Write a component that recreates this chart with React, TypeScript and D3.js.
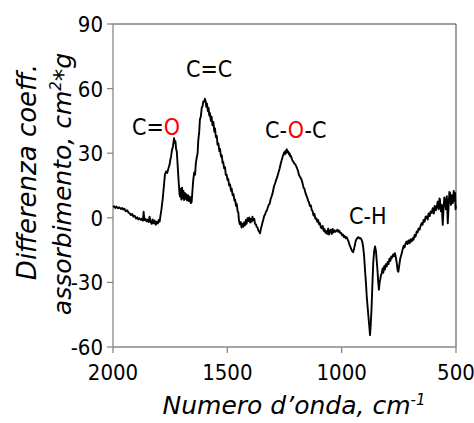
import React from "react";
import * as d3 from "d3";

// Wavenumber (cm-1) and absorption-coefficient difference
const wavenumbers = [
  2000, 1995, 1990, 1985, 1978, 1972, 1966, 1960, 1955, 1950, 1944, 1938, 1933, 1927, 1921, 1916, 1911, 1905, 1899, 1894,
  1889, 1884, 1878, 1873, 1869, 1866, 1863, 1858, 1853, 1848, 1844, 1840, 1836, 1831, 1827, 1822, 1818, 1813, 1809, 1804,
  1800, 1796, 1793, 1788, 1783, 1778, 1773, 1768, 1763, 1758, 1753, 1749, 1746, 1742, 1738, 1735, 1733, 1730, 1727, 1724,
  1721, 1717, 1713, 1709, 1707, 1704, 1701, 1698, 1695, 1692, 1689, 1686, 1683, 1680, 1676, 1672, 1668, 1664, 1660, 1656,
  1653, 1649, 1645, 1641, 1638, 1634, 1630, 1627, 1623, 1620, 1616, 1612, 1608, 1605, 1601, 1598, 1595, 1592, 1589, 1585,
  1582, 1579, 1576, 1572, 1569, 1565, 1561, 1557, 1554, 1550, 1546, 1543, 1539, 1535, 1532, 1528, 1524, 1521, 1518, 1514,
  1510, 1507, 1503, 1499, 1496, 1492, 1488, 1484, 1481, 1477, 1473, 1469, 1466, 1462, 1459, 1455, 1452, 1449, 1445, 1441,
  1438, 1434, 1430, 1427, 1423, 1419, 1416, 1412, 1408, 1404, 1400, 1397, 1393, 1390, 1386, 1382, 1379, 1375, 1372, 1368,
  1364, 1360, 1357, 1353, 1349, 1346, 1343, 1339, 1335, 1331, 1327, 1323, 1319, 1315, 1311, 1307, 1303, 1299, 1295, 1291,
  1287, 1283, 1279, 1275, 1271, 1267, 1263, 1259, 1255, 1251, 1248, 1245, 1242, 1240, 1237, 1234, 1231, 1228, 1225, 1222,
  1219, 1215, 1211, 1207, 1203, 1199, 1195, 1191, 1187, 1183, 1179, 1175, 1171, 1167, 1163, 1159, 1155, 1151, 1147, 1143,
  1139, 1135, 1131, 1127, 1123, 1119, 1115, 1111, 1107, 1103, 1099, 1095, 1091, 1087, 1083, 1079, 1075, 1071, 1067, 1063,
  1059, 1055, 1051, 1047, 1043, 1039, 1035, 1031, 1027, 1022, 1018, 1014, 1010, 1006, 1002, 998, 994, 990, 986, 982,
  978, 974, 970, 966, 962, 958, 954, 950, 946, 942, 938, 934, 930, 926, 922, 918, 914, 910, 906, 902,
  898, 894, 890, 886, 882, 878, 876, 873, 869, 866, 862, 858, 854, 850, 847, 843, 840, 837, 834, 831,
  828, 825, 821, 818, 814, 811, 807, 803, 799, 795, 791, 787, 783, 779, 775, 771, 767, 763, 759, 755,
  752, 748, 744, 740, 737, 733, 729, 725, 721, 716, 712, 708, 703, 699, 694, 690, 686, 681, 677, 672,
  668, 664, 659, 655, 650, 646, 642, 637, 633, 628, 624, 620, 615, 611, 606, 602, 597, 593, 588, 584,
  580, 576, 572, 570, 566, 562, 558, 554, 551, 548, 544, 540, 536, 532, 529, 526, 522, 518, 514, 510,
  507, 504, 502, 500,
];

const difference = [
  5.0, 5.4, 4.6, 5.2, 4.4, 4.9, 4.1, 4.6, 3.8, 4.2, 3.0, 3.5, 2.6, 2.0, 1.3, 1.8, 0.5, 0.9, -0.3, 0.2,
  -0.8, -0.2, -1.0, -0.4, -1.3, 2.8, -1.0, -0.5, -1.6, -0.8, -2.0, 0.5, -1.8, -2.8, -0.8, -2.6, -1.2, -3.2, -1.8, -2.6,
  -1.0, -1.8, 0.5, 4.0, 8.4, 14.0, 20.0, 21.5, 20.8, 22.8, 24.5, 27.0, 28.5, 31.5, 33.0, 35.5, 37.0, 34.8, 35.5, 32.0,
  30.8, 24.0, 17.0, 11.0, 9.9, 13.5, 8.5, 14.0, 9.0, 12.5, 8.2, 11.5, 8.8, 11.0, 8.0, 10.5, 7.8, 9.8, 6.8, 7.4,
  12.0, 17.6, 21.0, 20.0, 25.0, 27.9, 30.0, 36.0, 40.0, 45.5, 47.0, 51.0, 52.0, 54.0, 54.0, 55.3, 54.2, 51.5, 53.0, 49.5,
  51.0, 47.5, 48.6, 45.0, 47.0, 43.0, 44.5, 40.0, 41.5, 37.5, 38.0, 34.0, 34.5, 31.0, 32.0, 28.5, 29.0, 25.5, 26.0, 23.0,
  23.5, 20.0, 20.0, 17.5, 18.0, 15.0, 15.5, 12.5, 13.5, 10.5, 11.0, 8.0, 8.5, 5.5, 6.5, 3.0, 2.5, -1.5, -3.0, -2.0,
  -4.5, -2.8, -4.2, -2.2, -3.5, -1.0, -2.8, -0.2, -1.5, 0.2, -2.2, -0.5, -1.8, 0.5, -1.2, -0.5, -2.8, -3.0, -4.2, -4.5,
  -6.0, -6.5, -7.2, -5.0, -3.5, -2.0, -1.0, 0.8, 1.5, 2.8, 3.5, 4.8, 6.0, 6.5, 8.5, 9.8, 11.0, 13.0, 15.0, 16.0,
  17.5, 18.5, 20.0, 21.5, 23.0, 25.0, 26.5, 28.0, 29.3, 30.5, 29.5, 31.2, 30.2, 31.8, 30.5, 30.8, 29.5, 30.0, 28.6, 28.8,
  27.7, 26.5, 26.0, 25.2, 24.8, 24.0, 23.0, 21.8, 20.0, 19.2, 18.5, 17.6, 16.0, 14.0, 13.5, 11.8, 10.5, 9.5, 8.0, 7.2,
  5.5, 5.8, 3.7, 3.0, 1.0, 1.8, -0.5, -0.2, -1.8, -1.0, -3.0, -2.5, -4.5, -4.8, -3.8, -6.0, -5.2, -7.0, -6.2, -7.5,
  -5.0, -7.8, -6.0, -5.5, -7.5, -5.2, -6.8, -5.8, -6.5, -6.0, -5.5, -6.5, -6.0, -7.2, -7.0, -8.2, -7.8, -9.0, -8.5, -9.5,
  -9.0, -10.0, -11.0, -12.5, -13.5, -14.5, -15.5, -16.0, -14.5, -12.5, -10.5, -9.8, -9.2, -9.0, -9.6, -9.4, -10.0, -11.0, -13.5, -17.5,
  -24.1, -30.0, -37.0, -42.0, -47.0, -52.0, -54.5, -50.0, -41.2, -32.0, -21.0, -15.5, -13.3, -15.5, -19.5, -25.0, -30.0, -33.4, -30.0, -28.5,
  -26.5, -26.0, -23.5, -25.5, -22.5, -24.0, -21.5, -22.6, -20.5, -21.5, -19.0, -20.0, -18.0, -18.5, -17.0, -17.8, -16.4, -18.5, -21.0, -24.5,
  -25.0, -22.0, -19.0, -17.5, -16.4, -14.5, -13.0, -13.8, -12.0, -11.0, -12.2, -10.5, -11.8, -10.0, -11.0, -9.5, -10.2, -8.0, -8.8, -6.4,
  -6.8, -5.0, -5.5, -3.8, -2.5, -3.2, -1.0, -1.8, 0.5, 0.6, -0.8, 2.0, 0.8, 3.0, 2.2, 4.5, 2.0, 5.5, 3.5, 5.2,
  7.5, 4.0, 9.0, 8.4, 3.0, 6.0, -3.3, 5.0, 9.5, 8.4, 4.0, 10.0, -2.5, 6.0, 12.0, 11.5, 6.0, 10.5, 6.8, 12.5,
  8.0, 11.5, 4.0, 5.5,
];

const xTicks = [2000, 1500, 1000, 500];
const yTicks = [-60, -30, 0, 30, 60, 90];

const annotationLabels = [
  { parts: [["C=", "#000"], ["O", "#ff0000"]], wn: 1917, v: 38.5 },
  { parts: [["C=C", "#000"]], wn: 1681, v: 65.5 },
  { parts: [["C-", "#000"], ["O", "#ff0000"], ["-C", "#000"]], wn: 1335, v: 37.2 },
  { parts: [["C-H", "#000"]], wn: 968, v: -2.8 },
];

const W = 474;
const H = 423;
const left = 113, right = 456, top = 24, bottom = 347;
const tickFont = "'DejaVu Sans Condensed', 'DejaVu Sans', sans-serif";
const labelFont = "'DejaVu Sans', sans-serif";

export default function App() {
  const x = d3.scaleLinear().domain([2000, 500]).range([left, right]);
  const y = d3.scaleLinear().domain([-60, 90]).range([bottom, top]);
  const pts = wavenumbers.map((w, i) => [w, difference[i]] as [number, number]);
  const line = d3.line<[number, number]>().x((d) => x(d[0])).y((d) => y(d[1]));

  return (
    <svg width={W} height={H} style={{ position: "absolute", left: 0, top: 0, background: "#fff" }}>
      <rect x={0} y={0} width={W} height={H} fill="#fff" />
      {/* frame */}
      <line x1={left} x2={right} y1={top} y2={top} stroke="#404040" strokeWidth={1} />
      <line x1={right} x2={right} y1={top} y2={bottom} stroke="#404040" strokeWidth={1} />
      {/* axes */}
      <line x1={left} x2={left} y1={top} y2={bottom} stroke="#888" strokeWidth={1.3} />
      <line x1={left} x2={right} y1={bottom} y2={bottom} stroke="#888" strokeWidth={1.3} />
      {yTicks.map((t) => (
        <g key={"y" + t}>
          <line x1={left - 6} x2={left} y1={y(t)} y2={y(t)} stroke="#888" strokeWidth={1.3} />
          <text x={left - 10} y={y(t)} dy="0.36em" textAnchor="end" fontFamily={tickFont} fontSize={22} fill="#000">
            {t}
          </text>
        </g>
      ))}
      {xTicks.map((t) => (
        <g key={"x" + t}>
          <line x1={x(t)} x2={x(t)} y1={bottom} y2={bottom + 6} stroke="#888" strokeWidth={1.3} />
          <text x={x(t)} y={380} textAnchor="middle" fontFamily={tickFont} fontSize={22} fill="#000">
            {t}
          </text>
        </g>
      ))}
      <path d={line(pts) || ""} fill="none" stroke="#000" strokeWidth={1.9} strokeLinejoin="round" />
      {annotationLabels.map((a, i) => (
        <text key={i} x={x(a.wn)} y={y(a.v)} fontFamily={tickFont} fontSize={23}>
          {a.parts.map((p, j) => (
            <tspan key={j} fill={p[1]}>
              {p[0]}
            </tspan>
          ))}
        </text>
      ))}
      {/* axis titles */}
      <text x={294} y={414} textAnchor="middle" fontFamily={labelFont} fontStyle="italic" fontSize={25} fill="#000">
        Numero d’onda, cm
        <tspan fontSize={15} dy={-9}>-1</tspan>
      </text>
      <text transform="translate(36,172) rotate(-90)" textAnchor="middle" fontFamily={labelFont} fontStyle="italic" fontSize={26} fill="#000">
        Differenza coeff.
      </text>
      <text transform="translate(71,184) rotate(-90)" textAnchor="middle" fontFamily={labelFont} fontStyle="italic" fontSize={25} fill="#000">
        assorbimento, cm
        <tspan fontSize={15} dy={-10}>2</tspan>
        <tspan dy={10}>*g</tspan>
      </text>
    </svg>
  );
}
